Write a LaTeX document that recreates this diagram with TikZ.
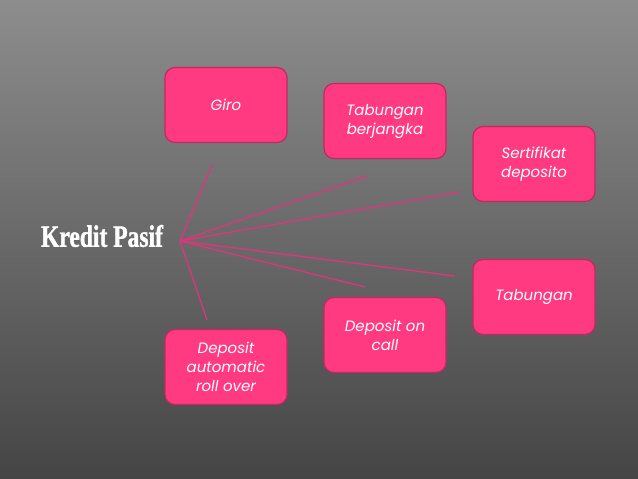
\documentclass[tikz,border=0pt]{standalone}
\usepackage{fontspec}
\setmainfont{Poppins}
\newfontfamily\titlefont[FakeStretch=0.76, FakeBold=1.2]{Liberation Serif}
\usetikzlibrary{positioning}
\definecolor{bgtop}{HTML}{8D8D8D}
\definecolor{bgbot}{HTML}{454545}
\definecolor{boxpink}{HTML}{FF3A80}
\definecolor{boxedge}{HTML}{C02A60}
\definecolor{linkpink}{HTML}{E0357A}
\tikzset{
	itembox/.style={rectangle, draw=boxedge, line width=1.2pt, rounded corners=10pt, fill=boxpink,
		minimum width=122pt, minimum height=75pt, align=center, text=white,
		font=\itshape\fontsize{15}{19}\selectfont, inner sep=3pt},
	linkline/.style={draw=linkpink, line width=1.3pt},
	titletext/.style={text=white, font=\titlefont\bfseries\fontsize{31}{34}\selectfont, inner sep=0pt}
}

\begin{document}
\begin{tikzpicture}[x=1pt, y=-1pt]
	\useasboundingbox (0,0) rectangle (638,479);
	\shade[top color=bgtop, bottom color=bgbot] (0,0) rectangle (638,479);
	% title and hub
	\node[titletext] (kredit) at (102,236) {Kredit Pasif};
	\coordinate (hub) at (180,241);
	% boxes
	\node[itembox] (giro) at (226,105) {Giro};
	\node[itembox] (berjangka) at (385,121) {Tabungan\\berjangka};
	\node[itembox] (sertifikat) at (534,164) {Sertifikat\\deposito};
	\node[itembox] (tabungan) at (534,297) {Tabungan};
	\node[itembox] (oncall) at (385,335) {Deposit on\\call};
	\node[itembox] (rollover) at (226,367) {Deposit\\automatic\\roll over};
	% line ends
	\coordinate (giroend) at (212,165);
	\coordinate (berjangkaend) at (367,176);
	\coordinate (sertifikatend) at (460,192);
	\coordinate (tabunganend) at (455,276);
	\coordinate (oncallend) at (365,287);
	\coordinate (rolloverend) at (207,320);
	\foreach \e in {giroend,berjangkaend,sertifikatend,tabunganend,oncallend,rolloverend}
		\draw[linkline] (hub) -- (\e);
\end{tikzpicture}
\end{document}
